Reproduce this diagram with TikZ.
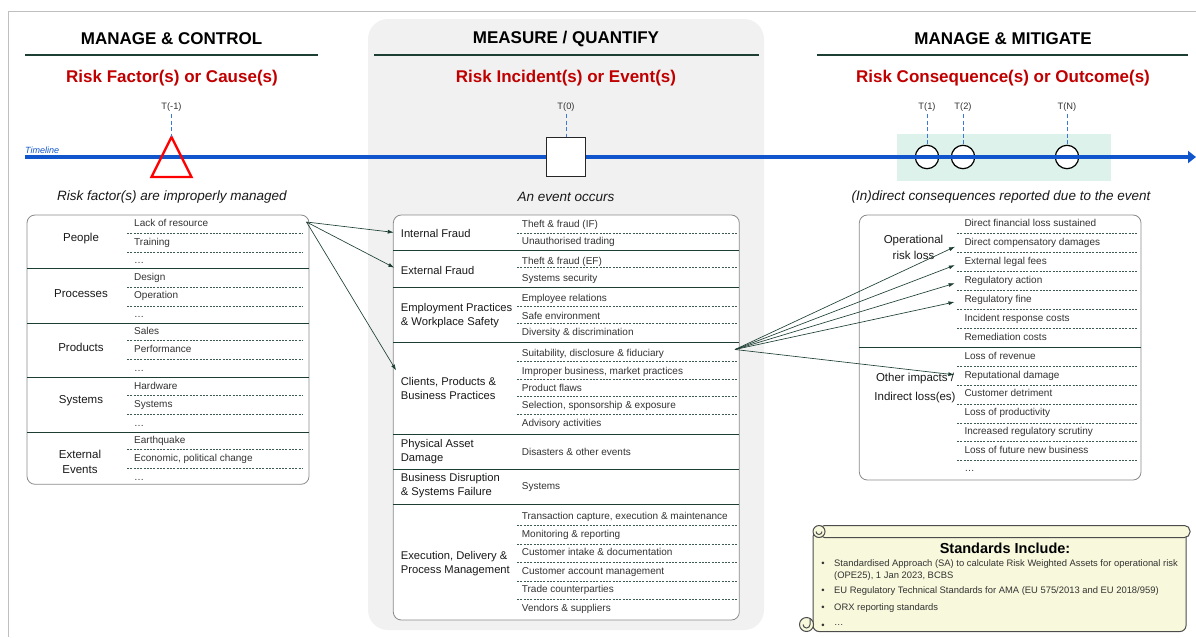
\documentclass[tikz,border=0pt]{standalone}
\usepackage{fontspec}
\setmainfont{Liberation Sans}
\usetikzlibrary{arrows.meta,positioning}

\definecolor{riskred}{HTML}{C00000}
\definecolor{lineblue}{HTML}{1155CC}
\definecolor{tickblue}{HTML}{3C78D8}
\definecolor{rulegreen}{HTML}{1D3F33}
\definecolor{panelgray}{HTML}{F1F1F1}
\definecolor{mint}{HTML}{DEF2EC}
\definecolor{parchment}{HTML}{F8F8DC}
\definecolor{framegray}{HTML}{8A8A8A}
\definecolor{itemgray}{HTML}{333333}

\begin{document}
\begin{tikzpicture}[
    x=1pt, y=-1pt,
    every node/.style={inner sep=2pt, text=black!90},
    header/.style={font=\bfseries\fontsize{17}{20}\selectfont, text=black},
    phase/.style={font=\bfseries\fontsize{17}{20}\selectfont, text=riskred},
    caption/.style={font=\itshape\fontsize{13.5}{16}\selectfont},
    tick/.style={font=\fontsize{9.3}{11}\selectfont, text=itemgray},
    group/.style={font=\fontsize{11.5}{15.5}\selectfont, align=center},
    kind/.style={font=\fontsize{11.2}{14}\selectfont, align=left, anchor=west},
    item/.style={font=\fontsize{10}{12}\selectfont, text=itemgray, anchor=west, text height=7.2pt, text depth=2.1pt},
    panel/.style={draw=framegray, fill=white, rounded corners=8pt, line width=0.8pt},
    divider/.style={draw=rulegreen, line width=0.9pt},
    dotrule/.style={draw=rulegreen!85, dash pattern=on 2pt off 1.3pt, line width=0.55pt},
    headrule/.style={draw=rulegreen, line width=2pt},
    marker/.style={draw=tickblue, dash pattern=on 4pt off 2.5pt, line width=1pt},
    moment/.style={circle, draw=black, fill=white, line width=1.2pt, minimum size=23.4pt, inner sep=0pt},
    flow/.style={-{Latex[length=6pt,width=4pt]}, draw=rulegreen, line width=0.65pt},
    scroll/.style={draw=black!70, fill=parchment, line width=1pt},
    stdmark/.style={font=\fontsize{9.4}{11.7}\selectfont, text=itemgray},
    stditem/.style={font=\fontsize{9.4}{11.7}\selectfont, text=itemgray, anchor=west, align=left}
]
\useasboundingbox (0,0) rectangle (1196,637);
\draw[black!25, line width=1pt] (1196,11) -- (8,11) -- (8,637);
\fill[panelgray, rounded corners=20pt] (368,19) rectangle (764,630);

\node[header] (hcontrol) at (171.5,39) {MANAGE \& CONTROL};
\node[header] (hmeasure) at (566,39) {MEASURE / QUANTIFY};
\node[header] (hmitigate) at (1003,39) {MANAGE \& MITIGATE};
\draw[headrule] (25,54.5) -- (318,54.5);
\draw[headrule] (374,54.5) -- (759,54.5);
\draw[headrule] (817,54.5) -- (1188,54.5);
\node[phase] (pcause) at (172,78) {Risk Factor(s) or Cause(s)};
\node[phase] (pevent) at (566,78) {Risk Incident(s) or Event(s)};
\node[phase] (poutcome) at (1003,78) {Risk Consequence(s) or Outcome(s)};

\fill[mint] (897,133.5) rectangle (1111,181);
\node[moment] (t1) at (927,157) {};
\node[moment] (t2) at (963,157) {};
\node[moment] (tn) at (1067,157) {};
\coordinate (tstart) at (25,157);
\coordinate (tend) at (1196,157);
\draw[lineblue, line width=3.5pt, -{Triangle[length=8pt,width=12pt]}] (tstart) -- (tend);
\node[font=\itshape\fontsize{9}{10}\selectfont, text=lineblue, anchor=west] (tlabel) at (23,150) {Timeline};
\coordinate (cause) at (171.5,137);
\draw[red, line width=2.3pt, line join=miter] (cause) -- (191.5,177) -- (151.5,177) -- cycle;
\node[draw=black!85, fill=white, line width=1.3pt, minimum size=39pt, inner sep=0pt] (event) at (566,157) {};

\node[tick] (tm1) at (171.5,107.5) {T(-1)};
\node[tick] (t0) at (566,107.5) {T(0)};
\node[tick] (lt1) at (927,107.5) {T(1)};
\node[tick] (lt2) at (963,107.5) {T(2)};
\node[tick] (ltn) at (1067,107.5) {T(N)};
\draw[marker] (tm1.south) -- (cause);
\draw[marker] (t0.south) -- (event.north);
\draw[marker] (lt1.south) -- (t1.north);
\draw[marker] (lt2.south) -- (t2.north);
\draw[marker] (ltn.south) -- (tn.north);

\node[caption] (ccause) at (172,197) {Risk factor(s) are improperly managed};
\node[caption] (cevent) at (566,197) {An event occurs};
\node[caption] (coutcome) at (1001,197) {(In)direct consequences reported due to the event};

\draw[panel] (27,215) rectangle (309,484.3);
\foreach \y in {268.3,323.3,377.3,432.7} \draw[divider] (27,\y) -- (309,\y);
\foreach \y in {233.3,252.3,287.3,306,340.7,359.3,395,414,449.3,468.3} \draw[dotrule] (127,\y) -- (303,\y);
\node[group] (people) at (81,238.3) {People};
\node[group] (processes) at (81,293.3) {Processes};
\node[group] (products) at (81,347.7) {Products};
\node[group] (systems) at (81,401) {Systems};
\node[group] (external) at (80,461.7) {External\\Events};
\foreach \y/\txt [count=\i] in {224.3/Lack of resource, 242.8/Training, 261.3/\dots, 277.7/Design, 296.3/Operation, 314.8/\dots, 331.7/Sales, 350.2/Performance, 368.7/\dots, 386.7/Hardware, 405/Systems, 423.5/\dots, 440.7/Earthquake, {459/Economic, political change}, 477.5/\dots}
    \node[item] (cf-\i) at (132,\y) {\txt};

\draw[panel] (393.3,215) rectangle (739.3,620);
\foreach \y in {250,287.3,342.7,434,469,504.3} \draw[divider] (393.3,\y) -- (739.3,\y);
\foreach \y in {233.3,267.7,306,323.3,361,379,396.7,414.3,525,544,562.3,581,599.3} \draw[dotrule] (517,\y) -- (737,\y);
\node[kind] (intfraud) at (398.7,233) {Internal Fraud};
\node[kind] (extfraud) at (398.7,270) {External Fraud};
\node[kind] (employ) at (398.7,316) {Employment Practices\\\& Workplace Safety};
\node[kind] (clients) at (398.7,388) {Clients, Products \&\\Business Practices};
\node[kind] (physical) at (398.7,451.7) {Physical Asset\\Damage};
\node[kind] (disrupt) at (398.7,486) {Business Disruption\\\& Systems Failure};
\node[kind] (execution) at (398.7,563.3) {Execution, Delivery \&\\Process Management};
\foreach \y/\txt [count=\i] in {225/Theft \& fraud (IF), 241.7/Unauthorised trading, 261.7/Theft \& fraud (EF), 279/Systems security, 299/Employee relations, 316.7/Safe environment, 333.3/Diversity \& discrimination, {354.3/Suitability, disclosure \& fiduciary}, {371.7/Improper business, market practices}, 389/Product flaws, {406.3/Selection, sponsorship \& exposure}, 424.3/Advisory activities, 453.3/Disasters \& other events, 486.7/Systems, {516.7/Transaction capture, execution \& maintenance}, 535/Monitoring \& reporting, 553.3/Customer intake \& documentation, 571.7/Customer account management, 590/Trade counterparties, 608.5/Vendors \& suppliers}
    \node[item] (ev-\i) at (519.7,\y) {\txt};

\draw[panel] (859.3,215) rectangle (1141,480);
\draw[divider] (859.3,347.7) -- (1141,347.7);
\foreach \y in {233.3,252.7,271.7,290.7,309.3,328.3,366.7,385.7,404.3,423.3,441.7,460.7} \draw[dotrule] (957,\y) -- (1137,\y);
\node[group] (oprisk) at (913.5,247.5) {Operational\\risk loss};
\node[group, align=center] (indirect) at (915,388) {Other impacts /\\[3.5pt]Indirect loss(es)};
\foreach \y/\txt [count=\i] in {224/Direct financial loss sustained, 243.3/Direct compensatory damages, 262.3/External legal fees, 281/Regulatory action, 300.3/Regulatory fine, 319/Incident response costs, 337.7/Remediation costs, 356.7/Loss of revenue, 375.7/Reputational damage, 394.3/Customer detriment, 413.3/Loss of productivity, 432/Increased regulatory scrutiny, 451/Loss of future new business, 469.3/\dots}
    \node[item] (oc-\i) at (962.3,\y) {\txt};

\coordinate (causeout) at (306.5,222);
\draw[flow, shorten >=5pt] (causeout) -- (intfraud.west);
\draw[flow, shorten >=5pt] (causeout) -- (extfraud.west);
\draw[flow, shorten >=5pt] (causeout) -- (clients.north west);
\coordinate (eventout) at (735,349.5);
\draw[flow, shorten >=8pt] (eventout) -- (oc-2.west);
\draw[flow, shorten >=8pt] (eventout) -- (oc-3.west);
\draw[flow, shorten >=8pt] (eventout) -- (oc-4.west);
\draw[flow, shorten >=8pt] (eventout) -- (oc-5.west);
\draw[flow, shorten >=8pt] (eventout) -- (oc-9.west);

\filldraw[scroll, rounded corners=6pt] (813,531) -- (813,631.5) -- (1186,631.5) -- (1186,531) -- cycle;
\filldraw[scroll, rounded corners=5.5pt] (819,525.5) -- (1190,525.5) -- (1190,537.5) -- (819,537.5) -- cycle;
\filldraw[scroll] (819,531.5) circle[radius=6pt];
\draw[scroll, fill=none] (816,531.5) arc[start angle=180, end angle=360, radius=3pt];
\filldraw[scroll] (806.5,624.5) circle[radius=7pt];
\draw[scroll, fill=none] (803,624.5) arc[start angle=180, end angle=360, radius=3.5pt] -- (810,618);
\node[font=\bfseries\fontsize{14.5}{16}\selectfont, text=black] (stdhead) at (1005,548.5) {Standards Include:};
\node[stdmark] (m1) at (823,564.3) {\textbullet};
\node[stditem] (s1) at (832,570.2) {Standardised Approach (SA) to calculate Risk Weighted Assets for operational risk\\(OPE25), 1 Jan 2023, BCBS};
\node[stdmark] (m2) at (823,591) {\textbullet};
\node[stditem] (s2) at (832,591) {EU Regulatory Technical Standards for AMA (EU 575/2013 and EU 2018/959)};
\node[stdmark] (m3) at (823,608.3) {\textbullet};
\node[stditem] (s3) at (832,608.3) {ORX reporting standards};
\node[stdmark] (m4) at (823,626) {\textbullet};
\node[stditem] (s4) at (832,624.5) {\dots};
\end{tikzpicture}
\end{document}
